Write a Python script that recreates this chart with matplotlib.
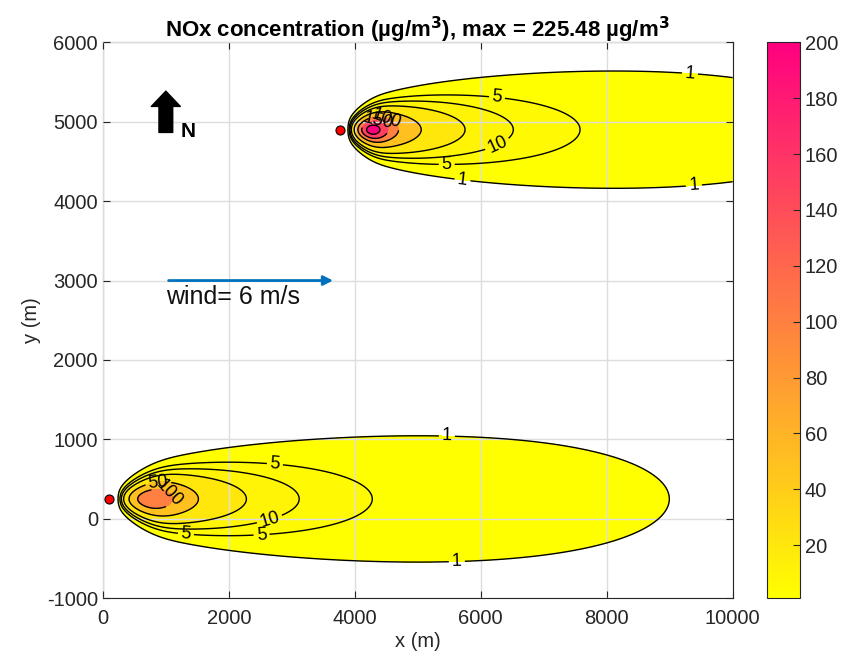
"""Ground-level NOx plume contours for two stacks (Gaussian plume)."""
import numpy as np
import matplotlib
matplotlib.use('Agg')
import matplotlib.pyplot as plt
from matplotlib.colors import LinearSegmentedColormap, Normalize
from matplotlib.cm import ScalarMappable

plt.rcParams['font.family'] = ['Liberation Sans', 'DejaVu Sans']
plt.rcParams['axes.unicode_minus'] = False

# Sources
source_x = [100, 3760]          # m
source_y = [250, 4900]          # m
emission = [19.76e6, 16.3e6]    # ug/s
touchdown_start = [110, 110]    # m downwind where the plume first reaches ground
touchdown_scale = [593, 407]    # m
wind_speed = 6                  # m/s, blowing towards +x

# dispersion: sigma_y = a*d**b*exp(d/L), sigma_z = a*d**b*exp(-d/L)
sy_a, sy_b = 5.08, 0.50
sz_a, sz_b = 0.0008, 1.63
spread_len = 14460

levels = [1, 5, 10, 20, 50, 100, 150, 200]
cbar_ticks = [20, 40, 60, 80, 100, 120, 140, 160, 180, 200]
max_text = '225.48'

# where the contour labels go (x, y in m)
label_spots = [(5460, 952), (5618, -471), (2730, 675), (1317, -215), (2523, -244),
               (2650, -18), (880, 450), (1000, 270),
               (9316, 5558), (5713, 4287), (9379, 4237), (6253, 5270), (5460, 4450),
               (6253, 4728), (4364, 4993), (4480, 4990)]

x = np.arange(0, 10001, 10)
y = np.arange(-1000, 6001, 10)
X, Y = np.meshgrid(x, y)


def plume(xs, ys, q, d0, lam):
    d = X - xs
    dd = np.where(d > 1, d, 1.0)
    sy = sy_a * dd ** sy_b * np.exp(dd / spread_len)
    sz = sz_a * dd ** sz_b * np.exp(-dd / spread_len)
    reach = 1 - np.exp(-(np.clip(dd - d0, 0, None) / lam) ** 3)
    c = q / (np.pi * wind_speed * sy * sz) \
        * np.exp(-(Y - ys) ** 2 / (2 * sy ** 2)) * reach
    return np.where(d > 1, c, 0.0)


C = np.zeros(X.shape)
for xs, ys, q, d0, lam in zip(source_x, source_y, emission, touchdown_start, touchdown_scale):
    C += plume(xs, ys, q, d0, lam)

cmap = LinearSegmentedColormap.from_list('nox', [(1, 1, 0), (1, 0, 0.5)])
norm = Normalize(vmin=1, vmax=200)
# MATLAB-like filling: each band gets the colour of its lower level
fill_colors = [cmap(norm(v)) for v in levels]

fig = plt.figure(figsize=(8.5, 6.61), dpi=100)
ax = fig.add_axes([0.121, 0.095, 0.741, 0.841])
cax = fig.add_axes([0.902, 0.095, 0.039, 0.841])

ax.contourf(X, Y, C, levels=levels + [max(C.max(), 201) + 1], colors=fill_colors, zorder=1)
cs = ax.contour(X, Y, C, levels=levels, colors='k', linewidths=1.0, zorder=3)
ax.clabel(cs, fmt='%g', fontsize=13, inline=True, inline_spacing=3, manual=label_spots)

ax.plot(source_x, source_y, 'o', color='red', markeredgecolor='k',
        markersize=6.5, markeredgewidth=0.8, zorder=5)

# wind arrow
ax.annotate('', xy=(3700, 3000), xytext=(1000, 3000),
            arrowprops=dict(arrowstyle='-|>', color='#0072BD', lw=2,
                            mutation_scale=14), zorder=6)
ax.text(1000, 2790, 'wind= 6 m/s', fontsize=18, ha='left', va='center', color='#111111')

# north arrow
ax.annotate('', xy=(1000, 5420), xytext=(1000, 4830),
            arrowprops=dict(arrowstyle='simple,head_width=0.95,head_length=0.5,tail_width=0.45',
                            color='k', mutation_scale=22), zorder=6)
ax.text(1230, 4880, 'N', fontsize=15, fontweight='bold', ha='left', va='center')

ax.set_xlim(0, 10000)
ax.set_ylim(-1000, 6000)
ax.set_xticks(range(0, 10001, 2000))
ax.set_yticks(range(-1000, 6001, 1000))
ax.grid(True, color='#dddddd', linewidth=1.0, zorder=2)
ax.set_axisbelow(False)
ax.tick_params(direction='in', labelsize=14.5, colors='#262626', length=5, top=True, right=True)
ax.tick_params(axis='x', pad=8)
for s in ax.spines.values():
    s.set_color('#262626')
ax.set_xlabel('x (m)', fontsize=14.5, color='#262626', labelpad=3)
ax.set_ylabel('y (m)', fontsize=14.5, color='#262626')
ax.set_title(r'NOx concentration (µg/m$^{\mathbf{3}}$), max = ' + max_text + r' µg/m$^{\mathbf{3}}$',
             fontsize=16, fontweight='bold', pad=4)

sm = ScalarMappable(norm=norm, cmap=cmap)
cb = fig.colorbar(sm, cax=cax, ticks=cbar_ticks)
cb.outline.set_edgecolor('#262626')
cax.tick_params(direction='in', labelsize=14.5, colors='#262626', length=5)

fig.savefig('out.png', dpi=100)
